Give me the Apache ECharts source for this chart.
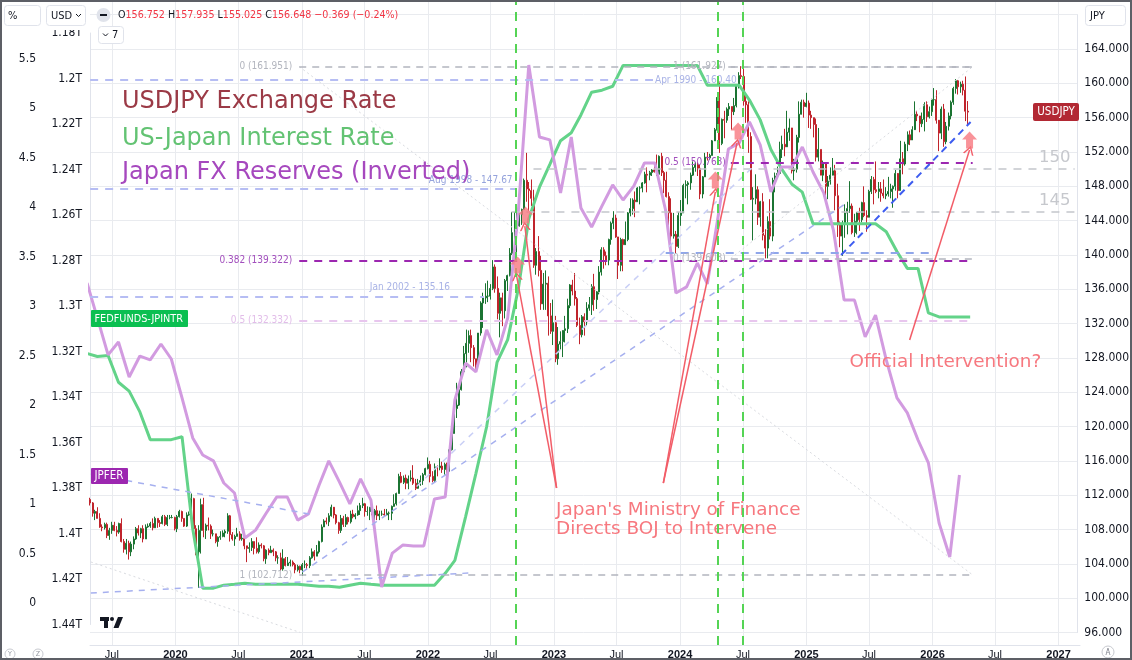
<!DOCTYPE html>
<html>
<head>
<meta charset="utf-8">
<title>USDJPY Exchange Rate vs US-Japan Interest Rate vs Japan FX Reserves</title>
<script src="https://cdn.jsdelivr.net/npm/echarts@6.0.0/dist/echarts.min.js"></script>
<style>
html,body{margin:0;padding:0;background:#ffffff;}
#chart{width:1132px;height:660px;}
</style>
</head>
<body>
<div id="chart"></div>
<script>
// ======================= DATA =======================
// Weekly USDJPY bars (Monday dated), each entry = [close, high, low]; open = previous week's close
const firstWeek = '2019-04-29';
const firstWeekOpen = 111.5;
const usdjpy2019 = [[111.1,111.7,110.8],[109.9,111.2,109.5],[110.1,110.3,109.1],[109.3,110.6,109.3],[108.3,109.9,108.2],[108.2,108.6,107.8],[108.6,108.8,108.0],[107.3,108.8,107.0],[107.9,108.2,106.8],[108.5,108.9,107.5],[107.9,108.9,107.8],[107.7,108.4,107.2],[108.7,108.8,107.5],[106.6,109.3,106.5],[105.7,106.9,105.3],[106.4,106.9,105.1],[105.4,106.7,104.5],[106.3,106.6,104.9],[106.9,107.2,105.7],[108.1,108.3,106.8],[107.6,108.5,107.3],[108.1,108.2,107.0],[106.9,108.5,106.5],[108.3,108.6,106.9],[108.4,108.7,108.2],[108.7,108.9,108.2],[108.2,109.3,107.9],[109.3,109.5,108.2],[108.8,109.3,108.2],[108.7,109.1,108.3],[109.5,109.7,108.6],[108.6,109.7,108.4],[109.4,109.7,108.4],[109.4,109.7,109.2],[109.4,109.7,109.3],[108.1,109.5,107.9]];
const usdjpy2020 = [[109.5,109.7,107.7],[110.1,110.3,109.4],[109.3,110.2,108.9],[108.4,109.3,108.3],[109.7,110.0,108.3],[109.8,110.1,109.6],[111.6,112.2,109.7],[108.1,111.7,107.5],[105.4,108.5,105.0],[107.9,108.5,101.2],[110.9,111.6,105.2],[107.9,111.7,107.1],[108.5,108.7,106.9],[108.4,109.4,107.9],[107.5,108.6,106.9],[107.5,108.0,107.2],[106.6,107.5,106.4],[107.1,107.2,106.0],[107.2,107.8,106.8],[107.6,107.9,107.1],[107.8,108.0,107.1],[109.6,109.9,107.5],[107.4,109.7,106.6],[106.9,107.7,106.7],[107.2,107.4,106.1],[107.5,108.2,107.2],[106.9,107.8,106.7],[107.0,107.5,106.7],[106.1,107.4,105.7],[105.8,106.1,104.2],[105.9,106.5,105.3],[106.6,107.0,105.5],[105.8,106.6,105.1],[105.4,107.1,105.2],[106.2,106.5,105.2],[106.1,106.4,105.8],[104.6,106.2,104.3],[105.6,105.7,104.0],[105.3,105.8,105.0],[105.6,106.1,105.3],[105.4,105.8,104.9],[104.7,105.5,104.3],[104.7,105.0,104.0],[103.4,105.3,103.2],[104.6,105.7,103.2],[103.8,104.8,103.7],[104.1,104.8,103.9],[104.2,104.5,103.7],[103.9,104.4,103.7],[103.3,104.1,102.9],[103.7,103.9,103.1],[103.3,103.8,102.9]];
const usdjpy2021 = [[103.9,104.1,102.6],[103.9,104.4,103.5],[103.8,104.1,103.3],[104.7,104.9,103.5],[105.4,105.8,104.6],[104.9,105.6,104.4],[105.4,106.2,104.9],[106.6,106.7,105.2],[108.3,108.6,106.5],[109.0,109.2,108.3],[108.9,109.4,108.6],[109.6,109.9,108.4],[110.6,110.9,109.5],[109.7,110.5,109.3],[108.8,109.8,108.6],[107.9,108.9,107.5],[109.3,109.7,107.6],[108.6,109.6,108.3],[109.4,109.8,108.3],[108.9,109.5,108.6],[109.8,110.2,108.7],[109.5,110.3,109.3],[109.7,109.9,109.2],[110.2,110.8,109.6],[110.8,111.1,109.7],[111.0,111.7,110.5],[110.1,111.1,109.5],[110.1,110.7,109.6],[110.6,110.6,109.1],[109.7,110.6,109.4],[110.2,110.4,108.7],[109.6,110.8,109.1],[109.8,110.2,109.1],[109.8,110.2,109.6],[109.7,110.4,109.6],[109.9,110.4,109.6],[109.9,110.1,109.1],[110.7,110.8,109.1],[111.0,112.1,110.8],[112.2,112.3,110.8],[114.2,114.5,112.2],[113.5,114.7,113.4],[114.0,114.3,113.3],[113.4,114.4,112.7],[113.9,114.3,112.7],[114.0,114.9,113.6],[113.4,115.5,113.2],[112.8,113.9,112.6],[113.4,113.9,113.1],[113.7,114.3,113.1],[114.4,114.6,113.2],[115.1,115.2,114.3]];
const usdjpy2022 = [[115.6,116.4,115.0],[114.2,116.0,113.5],[113.7,114.8,113.5],[115.3,115.7,113.5],[115.2,115.5,114.2],[115.4,116.3,114.9],[115.0,115.9,114.6],[115.6,115.8,114.4],[114.8,115.8,114.6],[117.3,117.4,114.9],[119.2,119.4,117.2],[122.1,122.4,119.2],[122.5,125.1,121.0],[124.3,124.7,122.4],[126.4,126.7,124.2],[128.5,129.4,126.3],[129.7,131.3,126.9],[130.6,131.2,128.6],[129.2,131.3,127.5],[127.9,129.5,127.0],[127.1,127.9,126.4],[130.9,130.9,127.6],[134.4,134.6,130.6],[135.0,135.6,131.5],[135.2,136.7,134.3],[135.2,137.0,134.5],[136.1,136.6,134.8],[138.6,139.4,135.9],[136.1,138.9,135.6],[133.2,137.5,132.5],[135.0,135.6,130.4],[133.5,135.6,131.7],[137.0,137.2,132.6],[137.6,137.7,135.8],[140.2,140.8,137.5],[142.6,145.0,140.0],[142.9,145.0,141.5],[143.4,145.9,140.3],[144.7,144.9,143.3],[145.3,145.4,143.5],[148.7,148.9,145.3],[147.7,151.9,146.2],[147.5,148.5,145.1],[146.6,148.8,145.7],[138.8,147.6,138.5],[140.4,140.8,137.7],[138.2,142.2,137.5],[134.3,139.9,133.6],[136.6,137.9,133.6],[136.7,138.2,133.6],[132.9,137.5,130.6],[131.1,134.4,130.8]];
const usdjpy2023 = [[132.1,134.8,129.5],[127.9,132.9,127.5],[129.6,131.6,127.2],[129.9,131.1,129.0],[131.2,131.2,128.1],[131.4,132.9,129.8],[134.1,134.9,130.9],[136.5,136.6,133.8],[135.8,137.1,135.3],[134.9,137.9,134.1],[131.8,135.1,131.6],[130.7,132.7,129.6],[132.8,133.0,130.4],[132.2,133.2,130.6],[133.8,134.5,131.8],[134.2,135.1,133.5],[136.3,136.6,133.0],[134.8,137.8,133.5],[135.7,135.8,133.7],[138.0,138.7,135.4],[140.6,140.9,137.6],[139.9,140.9,138.4],[139.4,140.4,138.8],[141.8,141.9,138.8],[143.7,143.9,141.2],[144.3,145.1,143.0],[142.1,144.7,142.0],[138.8,142.1,137.2],[141.8,142.0,138.1],[141.2,141.9,138.1],[141.8,143.9,141.5],[144.9,145.0,141.6],[145.4,146.6,144.5],[146.4,146.6,144.7],[146.2,147.4,144.4],[147.8,147.9,146.2],[147.8,148.0,145.9],[148.4,148.5,147.3],[149.4,149.7,148.3],[149.3,150.2,147.3],[149.6,149.8,148.7],[149.9,150.0,149.2],[149.7,150.8,149.6],[149.4,151.7,149.2],[151.5,151.6,149.6],[149.6,151.9,149.2],[148.7,149.8,147.2],[146.8,149.7,146.7],[144.9,147.3,141.7],[142.2,146.6,140.9],[142.4,144.9,141.9],[141.0,142.8,140.2]];
const usdjpy2024 = [[144.6,145.0,140.8],[144.9,146.4,143.4],[148.1,148.3,144.9],[148.2,148.7,146.6],[148.4,148.6,145.9],[149.3,149.6,147.6],[150.2,150.9,149.2],[150.5,150.8,149.7],[150.1,150.8,149.2],[147.1,150.5,146.5],[149.1,149.2,146.6],[151.4,151.9,149.2],[151.3,152.0,151.0],[151.6,151.8,151.1],[153.3,153.4,151.6],[154.6,154.8,153.6],[158.3,158.4,154.5],[153.0,160.2,151.9],[155.8,155.9,152.8],[155.7,156.8,153.6],[157.0,157.2,155.4],[157.3,157.7,156.2],[156.7,157.3,154.6],[157.4,158.3,156.3],[159.8,159.9,157.2],[160.9,161.3,159.4],[160.8,162.0,160.5],[157.9,161.8,157.4],[157.5,158.9,155.4],[153.8,157.9,151.9],[146.5,154.3,146.4],[146.6,147.9,141.7],[147.6,149.4,145.9],[144.4,148.0,143.5],[146.2,146.3,143.3],[142.3,147.2,141.7],[140.8,143.0,139.6],[143.9,144.5,139.6],[142.2,146.5,141.8],[148.7,149.0,141.6],[149.2,149.6,147.3],[149.5,150.3,148.9],[152.3,153.2,149.4],[152.9,153.9,151.3],[152.6,154.7,151.5],[154.3,156.8,152.7],[154.8,155.9,153.3],[149.8,154.6,149.5],[150.0,151.2,148.7],[153.7,154.0,149.6],[156.4,157.9,153.1],[157.8,158.1,156.7],[157.3,158.1,156.0]];
const usdjpy2025 = [[157.7,158.9,157.2],[156.3,158.0,154.8],[156.0,156.8,154.7],[155.2,156.0,153.7],[151.4,155.9,150.9],[152.3,154.8,150.9],[149.3,152.3,149.3],[150.6,151.0,148.6],[148.0,150.2,146.9],[148.6,149.2,146.5],[149.3,150.2,148.2],[149.8,151.3,149.4],[146.9,150.5,145.2],[143.5,148.3,142.1],[142.2,143.9,140.9],[143.7,144.0,139.9],[144.9,145.9,142.0],[145.4,146.2,142.4],[145.7,148.6,144.9],[142.6,146.0,142.4],[143.9,144.8,142.1],[144.9,145.0,142.4],[144.1,145.5,142.8],[146.1,146.2,143.8],[144.6,148.0,144.4],[144.4,145.2,142.7],[147.4,147.6,144.6],[148.8,149.2,147.1],[147.6,149.1,145.9],[147.4,150.9,147.2],[147.7,148.5,146.6],[147.2,148.5,146.2],[146.9,148.8,146.6],[147.1,147.9,146.5],[147.4,149.1,146.8],[147.7,148.3,146.6],[148.0,148.1,145.5],[149.5,149.9,147.5],[147.5,149.2,146.6],[151.2,153.3,147.5],[150.6,152.0,149.4],[152.9,153.2,150.4],[154.0,154.4,152.1],[153.4,154.5,152.8],[154.6,155.0,153.6],[156.4,157.9,154.9],[156.2,156.8,155.6],[155.3,156.2,154.3],[155.8,156.6,154.9],[157.5,157.8,154.4],[156.1,157.9,155.5],[156.7,157.3,155.9]];
const usdjpy2026 = [[158.1,158.2,156.2],[158.1,159.45,157.4],[155.7,159.2,155.3],[154.2,155.5,152.1],[157.0,157.3,153.5],[153.2,157.6,152.6],[155.0,155.5,152.9],[156.2,156.6,154.5],[157.8,158.0,155.8],[159.4,159.6,157.5],[160.3,160.5,158.8],[159.6,160.4,158.7],[159.9,160.2,158.9],[159.2,160.3,158.6],[156.752,160.8,155.6],[156.648,157.935,155.025]];
const lastBar = { o: '156.752', h: '157.935', l: '155.025', c: '156.648', chg: '\u22120.369 (\u22120.24%)' };

// Monthly series; first point sits on this date (the source plots each month ~10 days before it starts)
const firstMonthlyPoint = '2019-04-20';
// FEDFUNDS - JPINTR spread, % (May 2019 .. May 2026)
const spreadValues = [2.52,2.49,2.50,2.23,2.14,1.93,1.65,1.65,
  1.65,1.68,0.75,0.15,0.15,0.18,0.19,0.20,0.19,0.19,0.19,0.19,
  0.19,0.18,0.17,0.17,0.16,0.18,0.20,0.19,0.18,0.18,0.18,0.18,
  0.18,0.18,0.30,0.43,0.87,1.31,1.78,2.43,2.66,3.18,3.88,4.20,
  4.43,4.67,4.75,4.93,5.16,5.18,5.22,5.43,5.43,5.43,5.43,5.43,
  5.43,5.43,5.43,5.23,5.23,5.23,5.23,5.08,4.88,4.58,4.39,4.23,
  4.15,3.83,3.83,3.83,3.83,3.83,3.83,3.83,3.75,3.55,3.38,3.38,
  2.93,2.89,2.89,2.89,2.89];
// Japan FX reserves, trillion USD (May 2019 .. Apr 2026), plotted on an inverted scale
const reservesValues = [1.2899,1.3053,1.3215,1.3158,1.3312,1.3220,1.3237,1.3167,
  1.3233,1.3404,1.3580,1.3655,1.3681,1.3778,1.3822,1.4020,1.3985,1.3910,1.3840,1.3840,
  1.3941,1.3914,1.3787,1.3681,1.3774,1.3870,1.3760,1.3853,1.4235,1.4086,1.4051,1.4055,
  1.4055,1.3848,1.3840,1.3413,1.3251,1.3290,1.3105,1.3215,1.3053,1.2578,1.1941,1.2257,
  1.2270,1.2503,1.2257,1.2569,1.2653,1.2560,1.2468,1.2534,1.2473,1.2371,1.2371,1.2578,
  1.2943,1.2916,1.2811,1.2903,1.2609,1.2310,1.2284,1.2191,1.2292,1.2499,1.2389,1.2389,
  1.2301,1.2411,1.2503,1.2666,1.2974,1.2974,1.3136,1.3040,1.3237,1.3404,1.3470,1.3589,
  1.3690,1.3954,1.4103,1.3743];

// Axis ticks
const timeTicks = ['2019-07-01','2020-01-01','2020-07-01','2021-01-01','2021-07-01','2022-01-01','2022-07-01','2023-01-01','2023-07-01','2024-01-01','2024-07-01','2025-01-01','2025-07-01','2026-01-01','2026-07-01','2027-01-01'];
const priceAxis = { min: 96, max: 168, step: 4 };
const rateAxis = { min: 0, max: 5.5, step: 0.5 };
const reservesAxis = { min: 1.18, max: 1.44, step: 0.02 };

// Drawings (anchored in time / price)
const fibA = { from: '2020-12-26', to: '2026-05-04', levels: [[0, 161.951], [0.382, 139.322], [0.5, 132.332], [1, 102.712]] };
const fibB = { from: '2024-06-01', to: '2026-05-04', levels: [[1, 161.927], [0.5, 150.768], [0, 139.608]] };
const historicLevels = [['Apr 1990', 160.40, '2019-04-29', '2023-10-19'], ['Aug 1998', 147.67, '2019-04-29', '2022-09-18'], ['Jan 2002', 135.16, '2019-04-29', '2022-06-15']];
const roundLevels = [[150, '2022-11-06', '2027-02-24'], [145, '2022-09-03', '2027-02-24']];
const supportLevel = [140.30, '2023-11-25', '2026-01-12'];
const trendJpferTop = ['2019-05-01', 114.47, '2021-01-24', 109.81];
const trendJpferBottom = ['2019-05-01', 100.60, '2022-05-02', 102.93];
const trendMain = ['2021-01-04', 103.05, '2025-05-07', 146.17];
const trendLight = ['2021-10-12', 111.09, '2024-08-10', 150.48];
const trendRecent = ['2025-04-17', 140.00, '2026-04-28', 155.49];
const trendFaint = ['2019-05-01', 104.22, '2020-12-29', 96.0];
const calloutLines = [['2023-01-12', 112.84, '2022-09-18', 137.55], ['2023-01-12', 112.84, '2022-10-12', 143.37], ['2023-11-18', 113.42, '2024-04-17', 147.34], ['2023-11-18', 113.42, '2024-06-19', 153.05], ['2025-11-02', 130.09, '2026-04-25', 152.23]];
const arrowMarks = [['2022-09-21', 138.83], ['2022-10-14', 144.65], ['2024-04-17', 148.73], ['2024-06-22', 154.44], ['2026-04-25', 153.40]];
const interventionDates = ['2022-09-12', '2024-04-19', '2024-07-01'];
const notes = [['2023-01-09', 109.17, "Japan's Ministry of Finance\nDirects BOJ to Intervene"], ['2025-05-10', 127.52, 'Official Intervention?']];

// ======================= BUILD =======================
function ts(s) { const p = s.split('-').map(Number); return new Date(p[0], p[1] - 1, p[2]).getTime(); }
const X_MIN = new Date(2019, 3, 28, 14).getTime();
const X_MAX = new Date(2027, 2, 4).getTime();

const candles = [];
(function () {
  const p = firstWeek.split('-').map(Number);
  let open = firstWeekOpen, i = 0;
  [usdjpy2019, usdjpy2020, usdjpy2021, usdjpy2022, usdjpy2023, usdjpy2024, usdjpy2025, usdjpy2026].forEach(arr => arr.forEach(b => {
    candles.push([new Date(p[0], p[1] - 1, p[2] + 7 * i).getTime(), open, b[0], b[2], b[1]]);
    open = b[0]; i++;
  }));
})();
const mp = firstMonthlyPoint.split('-').map(Number);
const monthDate = i => new Date(mp[0], mp[1] - 1 + i, mp[2]).getTime();
const spreadData = spreadValues.map((v, i) => [monthDate(i), v]);
const reservesData = reservesValues.map((v, i) => [monthDate(i), v]);

const UI = '"Liberation Sans Narrow","DejaVu Sans Condensed","Liberation Sans",Arial,sans-serif';
const AX = '"Liberation Sans",Arial,sans-serif';
const TXT = '"DejaVu Sans","Noto Sans",sans-serif';
const INK = '#131722';

const S = {
  gray: { color: '#b2b5be', width: 1.5, type: [7, 6] },
  purple: { color: '#9c27b0', width: 2, type: [8, 7] },
  pink: { color: '#e8c6ee', width: 2, type: [8, 7] },
  lav: { color: '#b6bdf3', width: 2, type: [8, 7] },
  support: { color: '#8fa6ea', width: 2, type: [8, 7] },
  round: { color: '#c3c6cc', width: 1.5, type: [8, 7] },
  trend: { color: '#a6b0ef', width: 1.5, type: [6, 6] },
  trendLight: { color: '#c9cff6', width: 1.5, type: [6, 6] },
  trendBold: { color: '#3d5cf0', width: 2, type: [7, 5] },
  faint: { color: '#d9dbe0', width: 1, type: [2, 3] },
  red: { color: '#f25d68', width: 1.5, type: 'solid' }
};
const CHEVRON = 'path://M0,10 L5,0 L10,10 L8.5,10 L5,3 L1.5,10 Z';

const ml = [];
function seg(d1, p1, d2, p2, lineStyle, label, endSymbol) {
  const a = { coord: [ts(d1), p1], lineStyle: lineStyle, label: label || { show: false } };
  const b = { coord: [ts(d2), p2] };
  if (endSymbol) { a.symbol = 'none'; b.symbol = endSymbol; b.symbolSize = [11, 9]; }
  ml.push([a, b]);
}
const lbl = (text, color, extra) => Object.assign({ show: true, formatter: text, color: color, fontSize: 10, fontFamily: UI }, extra || {});

seg(fibA.from, fibA.levels[0][1], fibA.to, fibA.levels[3][1], S.faint);
seg(fibB.from, fibB.levels[2][1], fibB.to, fibB.levels[0][1], S.faint);
seg(trendFaint[0], trendFaint[1], trendFaint[2], trendFaint[3], S.faint);
historicLevels.forEach(h => {
  const text = h[0] + ' - ' + h[1].toFixed(2);
  let l;
  if (h[0] === 'Apr 1990') l = lbl(text, '#a9b3e6', { position: 'end', distance: 2, padding: [0, 0, 14, 0] });
  else if (h[0] === 'Aug 1998') l = lbl(text, '#95a3dc', { position: 'insideEndTop', distance: 4 });
  else l = lbl(text, '#a9b3e6', { position: 'insideEndTop', distance: 4, padding: [0, 30, 0, 0] });
  seg(h[2], h[1], h[3], h[1], S.lav, l);
});
roundLevels.forEach(r => seg(r[1], r[0], r[2], r[0], S.round, lbl(String(r[0]), '#c6c8cd', { position: 'insideEndTop', distance: 3, fontSize: 16.5, fontFamily: TXT, padding: [0, 1, 0, 0] })));
seg(supportLevel[1], supportLevel[0], supportLevel[2], supportLevel[0], S.support);
fibA.levels.forEach(lv => {
  const st = lv[0] === 0.382 ? S.purple : lv[0] === 0.5 ? S.pink : S.gray;
  const col = lv[0] === 0.382 ? '#a24fbd' : lv[0] === 0.5 ? '#e2bde9' : '#b2b5be';
  seg(fibA.from, lv[1], fibA.to, lv[1], st, lbl(lv[0] + ' (' + lv[1].toFixed(3) + ')', col, { position: 'start', distance: 7 }));
});
fibB.levels.forEach(lv => {
  const st = lv[0] === 0.5 ? S.purple : S.gray;
  const col = lv[0] === 0.5 ? '#a24fbd' : '#b2b5be';
  seg(fibB.from, lv[1], fibB.to, lv[1], st, lbl(lv[0] + ' (' + lv[1].toFixed(3) + ')', col, { position: 'start', distance: 5 }));
});
seg(trendJpferTop[0], trendJpferTop[1], trendJpferTop[2], trendJpferTop[3], S.trend);
seg(trendJpferBottom[0], trendJpferBottom[1], trendJpferBottom[2], trendJpferBottom[3], S.trend);
seg(trendLight[0], trendLight[1], trendLight[2], trendLight[3], S.trendLight);
seg(trendMain[0], trendMain[1], trendMain[2], trendMain[3], S.trend);
seg(trendRecent[0], trendRecent[1], trendRecent[2], trendRecent[3], S.trendBold);
calloutLines.forEach(c => seg(c[0], c[1], c[2], c[3], S.red, null, CHEVRON));

// time-axis labels + vertical grid lines (labels sit below each grid line)
const timeGrid = timeTicks.map(t => {
  const d = new Date(ts(t));
  const isYear = d.getMonth() === 0;
  return { xAxis: ts(t), label: { show: true, position: 'start', distance: 4, formatter: isYear ? String(d.getFullYear()) : 'Jul',
    color: INK, fontSize: 11, fontFamily: AX, fontWeight: isYear ? 'bold' : 'normal' } };
});

const option = {
  backgroundColor: '#ffffff',
  animation: false,
  grid: [
    { left: 90, right: 52, top: 14.7, bottom: 27.5 },
    { left: 90, right: 52, top: 58.5, bottom: 57 },
    { left: 90, right: 52, top: 33, bottom: 35.5 },
    { left: 90, right: 52, top: 0, bottom: 15 }
  ],
  xAxis: [0, 1, 2, 3].map(k => ({ type: 'time', gridIndex: k, min: X_MIN, max: X_MAX, show: k === 3,
    axisLine: { show: true, lineStyle: { color: '#e0e3eb' } }, axisTick: { show: false }, splitLine: { show: false }, axisLabel: { show: false } })),
  yAxis: [
    { type: 'value', gridIndex: 0, position: 'right', min: priceAxis.min, max: priceAxis.max, interval: priceAxis.step,
      axisLine: { show: true, lineStyle: { color: '#e0e3eb' } }, axisTick: { show: false },
      splitLine: { show: true, lineStyle: { color: '#e9ebef' } },
      axisLabel: { margin: 7, color: INK, fontSize: 12, fontFamily: UI, formatter: v => v.toFixed(3) } },
    { type: 'value', gridIndex: 1, position: 'left', offset: 46, min: rateAxis.min, max: rateAxis.max, interval: rateAxis.step,
      axisLine: { show: false }, axisTick: { show: false }, splitLine: { show: false },
      axisLabel: { margin: 8, color: INK, fontSize: 12, fontFamily: UI, formatter: v => String(+v.toFixed(1)) } },
    { type: 'value', gridIndex: 2, position: 'left', inverse: true, min: reservesAxis.min, max: reservesAxis.max, interval: reservesAxis.step,
      axisLine: { show: true, lineStyle: { color: '#e0e3eb' } }, axisTick: { show: false }, splitLine: { show: false },
      axisLabel: { margin: 8, color: INK, fontSize: 12, fontFamily: UI, formatter: v => +v.toFixed(2) + 'T' } },
    { type: 'value', gridIndex: 3, min: 0, max: 1, show: false }
  ],
  series: [
    {
      type: 'line', xAxisIndex: 3, yAxisIndex: 3, data: [[ts('2020-01-01'), 0.5]], symbol: 'none', lineStyle: { opacity: 0 }, silent: true, z: 1, clip: false,
      markLine: { z: 1, silent: true, symbol: ['none', 'none'], animation: false,
        lineStyle: { color: '#e9ebef', width: 1, type: 'solid' }, data: timeGrid }
    },
    {
      type: 'candlestick', name: 'USDJPY', xAxisIndex: 0, yAxisIndex: 0, data: candles,
      encode: { x: 0, y: [1, 2, 3, 4] }, barWidth: 1.5, z: 2,
      itemStyle: { color: '#1b7432', color0: '#c0242c', borderColor: '#1b7432', borderColor0: '#c0242c', borderWidth: 1 },
      markLine: { silent: true, symbol: ['none', 'none'], label: { show: false }, data: ml, animation: false },
      markPoint: { silent: true, symbol: 'circle', symbolSize: 1, itemStyle: { color: 'rgba(0,0,0,0)' }, animation: false,
        data: notes.map(n => ({ coord: [ts(n[0]), n[1]],
          label: { show: true, position: 'right', distance: 0, formatter: n[2], color: '#f7787f', fontSize: 18.4, lineHeight: 19, fontFamily: TXT } })) }
    },
    { type: 'line', name: 'FEDFUNDS-JPINTR', xAxisIndex: 1, yAxisIndex: 1, data: spreadData, showSymbol: false, symbol: 'none',
      lineStyle: { color: '#63d389', width: 3 }, z: 3 },
    { type: 'line', name: 'JPFER', xAxisIndex: 2, yAxisIndex: 2, data: reservesData, showSymbol: false, symbol: 'none',
      lineStyle: { color: '#d29be0', width: 3 }, z: 3 },
    {
      type: 'line', xAxisIndex: 3, yAxisIndex: 3, data: [[ts('2020-01-01'), 0.5]], symbol: 'none', lineStyle: { opacity: 0 }, silent: true, z: 6,
      markLine: { z: 6, silent: true, symbol: ['none', 'none'], label: { show: false }, animation: false,
        lineStyle: { color: '#55d455', width: 2, type: [9, 7] }, data: interventionDates.map(t => ({ xAxis: ts(t) })) }
    },
    { type: 'scatter', xAxisIndex: 0, yAxisIndex: 0, z: 7, silent: true,
      symbol: 'path://M7.5,0 L15,8 L11,8 L11,17 L4,17 L4,8 L0,8 Z', symbolSize: [15, 17],
      itemStyle: { color: '#f7787f' }, data: arrowMarks.map(a => [ts(a[0]), a[1]]) }
  ],
  graphic: [
    { type: 'text', x: 122, y: 102, z: 50, style: { text: 'USDJPY Exchange Rate', fill: '#9b3a46', font: '24px ' + TXT, verticalAlign: 'middle' } },
    { type: 'text', x: 122, y: 139, z: 50, style: { text: 'US-Japan Interest Rate', fill: '#63c373', font: '24px ' + TXT, verticalAlign: 'middle' } },
    { type: 'text', x: 122, y: 173, z: 50, style: { text: 'Japan FX Reserves (Inverted)', fill: '#a648be', font: '24px ' + TXT, verticalAlign: 'middle' } },
    { type: 'rect', z: 50, shape: { x: 1033, y: 103, width: 46, height: 18, r: 2 }, style: { fill: '#b22833' } },
    { type: 'text', z: 51, x: 1056, y: 112.5, style: { text: 'USDJPY', fill: '#ffffff', font: '11.5px ' + UI, align: 'center', verticalAlign: 'middle' } },
    { type: 'rect', z: 50, shape: { x: 91, y: 310, width: 97, height: 17, r: 1 }, style: { fill: '#0bbf51' } },
    { type: 'text', z: 51, x: 94.5, y: 319, style: { text: 'FEDFUNDS-JPINTR', fill: '#ffffff', font: '10.8px ' + UI, verticalAlign: 'middle' } },
    { type: 'rect', z: 50, shape: { x: 91, y: 468, width: 37, height: 16, r: 1 }, style: { fill: '#9c27b0' } },
    { type: 'text', z: 51, x: 94.5, y: 476.5, style: { text: 'JPFER', fill: '#ffffff', font: '11.5px ' + UI, verticalAlign: 'middle' } },
    { type: 'rect', z: 60, shape: { x: 2, y: 2, width: 87, height: 28 }, style: { fill: '#ffffff' } },
    { type: 'rect', z: 60, shape: { x: 1081, y: 2, width: 49, height: 26 }, style: { fill: '#ffffff' } },
    { type: 'rect', z: 61, shape: { x: 4.5, y: 5.5, width: 36, height: 20, r: 3 }, style: { fill: '#ffffff', stroke: '#e0e3eb' } },
    { type: 'text', z: 62, x: 8, y: 16, style: { text: '%', fill: INK, font: '11px ' + UI, verticalAlign: 'middle' } },
    { type: 'rect', z: 61, shape: { x: 46.5, y: 5.5, width: 39, height: 20, r: 3 }, style: { fill: '#ffffff', stroke: '#e0e3eb' } },
    { type: 'text', z: 62, x: 51, y: 16, style: { text: 'USD', fill: INK, font: '11px ' + UI, verticalAlign: 'middle' } },
    { type: 'polyline', z: 62, shape: { points: [[76, 14], [78.5, 16.5], [81, 14]] }, style: { stroke: INK, lineWidth: 1, fill: null } },
    { type: 'circle', z: 61, shape: { cx: 103.5, cy: 15, r: 7 }, style: { fill: '#e0e3eb' } },
    { type: 'rect', z: 62, shape: { x: 100, y: 14, width: 7, height: 2 }, style: { fill: INK } },
    { type: 'text', z: 62, x: 118, y: 15.5, style: {
      text: '{k|O}{v|' + lastBar.o + '} {k|H}{v|' + lastBar.h + '} {k|L}{v|' + lastBar.l + '} {k|C}{v|' + lastBar.c + '} {v|' + lastBar.chg + '}',
      font: '10.6px ' + UI, verticalAlign: 'middle',
      rich: { k: { fill: INK, font: '10.6px ' + UI }, v: { fill: '#f23645', font: '10.6px ' + UI } } } },
    { type: 'rect', z: 61, shape: { x: 98.5, y: 26.5, width: 25, height: 17, r: 3 }, style: { fill: '#ffffff', stroke: '#e0e3eb' } },
    { type: 'polyline', z: 62, shape: { points: [[103, 33.5], [105.5, 36], [108, 33.5]] }, style: { stroke: INK, lineWidth: 1, fill: null } },
    { type: 'text', z: 62, x: 112, y: 35.5, style: { text: '7', fill: INK, font: '11px ' + UI, verticalAlign: 'middle' } },
    { type: 'rect', z: 61, shape: { x: 1085.5, y: 5.5, width: 40, height: 20, r: 3 }, style: { fill: '#ffffff', stroke: '#e0e3eb' } },
    { type: 'text', z: 62, x: 1090, y: 16, style: { text: 'JPY', fill: INK, font: '11px ' + UI, verticalAlign: 'middle' } },
    { type: 'rect', z: 50, shape: { x: 100, y: 617, width: 9, height: 4 }, style: { fill: INK } },
    { type: 'rect', z: 50, shape: { x: 104, y: 617, width: 4, height: 11 }, style: { fill: INK } },
    { type: 'circle', z: 50, shape: { cx: 112, cy: 619, r: 2 }, style: { fill: INK } },
    { type: 'polygon', z: 50, shape: { points: [[113.5, 628], [118, 617], [123, 617], [118.5, 628]] }, style: { fill: INK } },
    { type: 'circle', z: 50, shape: { cx: 10, cy: 654, r: 5 }, style: { fill: '#ffffff', stroke: '#c8cad0' } },
    { type: 'text', z: 51, x: 10, y: 654.5, style: { text: 'Y', fill: '#9598a1', font: '7px ' + UI, align: 'center', verticalAlign: 'middle' } },
    { type: 'circle', z: 50, shape: { cx: 38, cy: 654, r: 5 }, style: { fill: '#ffffff', stroke: '#c8cad0' } },
    { type: 'text', z: 51, x: 38, y: 654.5, style: { text: 'Z', fill: '#9598a1', font: '7px ' + UI, align: 'center', verticalAlign: 'middle' } },
    { type: 'circle', z: 50, shape: { cx: 1108, cy: 652, r: 6 }, style: { fill: '#ffffff', stroke: '#c8cad0' } },
    { type: 'text', z: 51, x: 1108, y: 652.5, style: { text: 'A', fill: '#787b86', font: '8px ' + UI, align: 'center', verticalAlign: 'middle' } },
    { type: 'rect', z: 70, shape: { x: 1, y: 1, width: 1130, height: 658 }, style: { fill: null, stroke: '#5d5f66', lineWidth: 2 } }
  ]
};

const chart = echarts.init(document.getElementById('chart'), null, { renderer: 'canvas' });
chart.setOption(option);
</script>
</body>
</html>
